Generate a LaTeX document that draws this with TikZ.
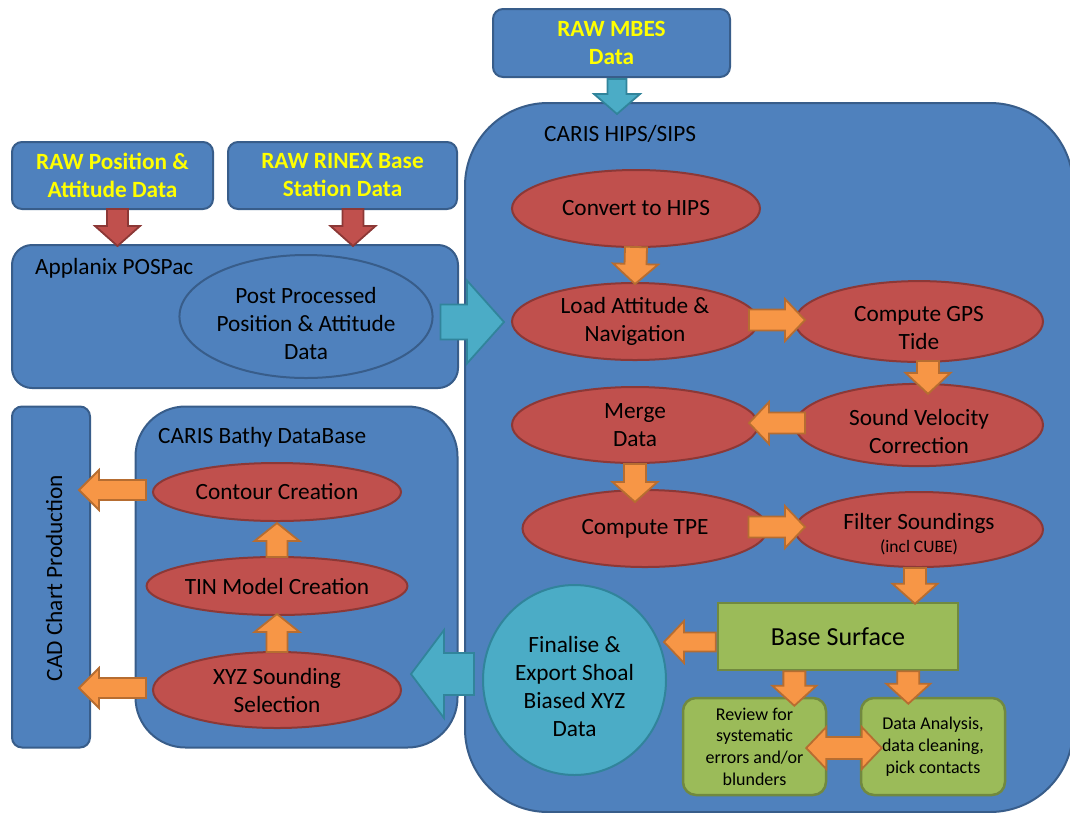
\documentclass[tikz,border=0pt]{standalone}
\usepackage{fontspec}
\setmainfont{Carlito}
\usetikzlibrary{calc,shapes.geometric}
\definecolor{blueF}{HTML}{4F81BD}
\definecolor{blueD}{HTML}{385D8A}
\definecolor{redF}{HTML}{C0504D}
\definecolor{redD}{HTML}{8C3836}
\definecolor{orangeF}{HTML}{F79646}
\definecolor{orangeD}{HTML}{B66D31}
\definecolor{tealF}{HTML}{4BACC6}
\definecolor{tealD}{HTML}{31849B}
\definecolor{greenF}{HTML}{9BBB59}
\definecolor{greenD}{HTML}{71893F}
\definecolor{rawyellow}{HTML}{FFFF00}
\newcommand\lowr[1]{\rule{0pt}{#1}}
% #1 style, #2 from, #3 to, #4 half shaft, #5 half head, #6 head length
\newcommand\blockarrow[6]{%
  \path[#1] let \p1=(#2), \p2=(#3),
    \n1={atan2(\y2-\y1,\x2-\x1)}, \n2={veclen(\x2-\x1,\y2-\y1)} in
    {[shift={(\p1)}, rotate=\n1]
     (0,-#4) -- ({\n2-#6},-#4) -- ({\n2-#6},-#5) -- (\n2,0)
     -- ({\n2-#6},#5) -- ({\n2-#6},#4) -- (0,#4) -- cycle};}
\newcommand\dblarrow[6]{%
  \path[#1] let \p1=(#2), \p2=(#3),
    \n1={atan2(\y2-\y1,\x2-\x1)}, \n2={veclen(\x2-\x1,\y2-\y1)} in
    {[shift={(\p1)}, rotate=\n1]
     (0,0) -- (#6,-#5) -- (#6,-#4) -- ({\n2-#6},-#4) -- ({\n2-#6},-#5) -- (\n2,0)
     -- ({\n2-#6},#5) -- ({\n2-#6},#4) -- (#6,#4) -- (#6,#5) -- cycle};}
\begin{document}
\begin{tikzpicture}[x=1pt,y=-1pt,
  bluebox/.style={draw=blueD, fill=blueF, line width=2pt, inner sep=0pt},
  rawbox/.style={bluebox, rounded corners=10pt, text=rawyellow, align=center,
    font=\fontsize{23.3}{28}\selectfont\bfseries},
  boxlabel/.style={anchor=west, inner sep=0pt, font=\fontsize{23.3}{28}\selectfont},
  redell/.style={ellipse, draw=redD, fill=redF, line width=2pt, inner sep=0pt,
    align=center, font=\fontsize{23.3}{28}\selectfont},
  blueell/.style={ellipse, draw=blueD, fill=blueF, line width=2pt, inner sep=0pt,
    align=center, font=\fontsize{23.3}{28}\selectfont},
  greenbox/.style={draw=greenD, fill=greenF, line width=2.5pt, inner sep=0pt, align=center},
  oarrow/.style={fill=orangeF, draw=orangeD, line width=1.8pt, line join=miter},
  rarrow/.style={fill=redF, draw=redD, line width=1.8pt, line join=miter},
  tarrow/.style={fill=tealF, draw=tealD, line width=1.8pt, line join=miter}]
\useasboundingbox (0,0) rectangle (1070,812);
\clip (0,0) rectangle (1070,812);

% containers
\node[bluebox, rounded corners=83pt, minimum width=608pt, minimum height=709pt] (hips) at (769,457.5) {};
\node[boxlabel] (hipslbl) at (544,134) {CARIS HIPS/SIPS};

\node[rawbox, minimum width=237pt, minimum height=68pt] (mbes) at (611.5,43) {RAW MBES\\Data};
\node[rawbox, minimum width=201pt, minimum height=67pt] (rawpos) at (112.5,175.5) {RAW Position \&\\Attitude Data};
\node[rawbox, minimum width=229pt, minimum height=67pt] (rinex) at (342.5,175.5) {RAW RINEX Base\\Station Data};

\node[bluebox, rounded corners=20pt, minimum width=446pt, minimum height=143pt] (pospac) at (235,316.5) {};
\node[boxlabel] (pospaclbl) at (35,268) {Applanix POSPac};
\node[blueell, minimum width=248pt, minimum height=123pt] (ppdata) at (306,316.5) {\lowr{30pt}Post Processed\\Position \& Attitude\\Data};

\node[bluebox, rounded corners=10pt, minimum width=78pt, minimum height=341pt] (cad) at (51,577) {};
\node[rotate=90, inner sep=0pt, font=\fontsize{23.3}{28}\selectfont] (cadlbl) at (54,578) {CAD Chart Production};

\node[bluebox, rounded corners=50pt, minimum width=322pt, minimum height=341pt] (bathy) at (296.5,577) {};
\node[boxlabel] (bathylbl) at (158,437) {CARIS Bathy DataBase};
\node[redell, minimum width=248pt, minimum height=58pt] (contour) at (277,492) {Contour Creation};
\node[redell, minimum width=248pt, minimum height=58pt] (tin) at (277,586) {TIN Model Creation};
\node[redell, minimum width=248pt, minimum height=76pt] (xyz) at (277,690) {XYZ Sounding\\Selection};

% HIPS process
\node[redell, minimum width=248pt, minimum height=77pt] (conv) at (636,208.5) {Convert to HIPS};
\node[redell, minimum width=246pt, minimum height=77pt] (load) at (635,321.5) {Load Attitude \&\\Navigation};
\node[redell, minimum width=248pt, minimum height=77pt] (gps) at (919,321.5) {\lowr{29pt}Compute GPS\\Tide};
\node[redell, minimum width=248pt, minimum height=76pt] (sv) at (919,425) {\lowr{30pt}Sound Velocity\\Correction};
\node[redell, minimum width=246pt, minimum height=76pt] (merge) at (635,425) {Merge\\Data};
\node[redell, minimum width=245pt, minimum height=77pt] (tpe) at (645,528.5) {Compute TPE};
\node[redell, minimum width=248pt, minimum height=75pt] (filter) at (919,529.5) {\lowr{25pt}Filter Soundings\\[-5pt]{\fontsize{17.5}{20}\selectfont (incl CUBE)}};

\node[greenbox, minimum width=240pt, minimum height=67pt, font=\fontsize{26}{30}\selectfont] (base) at (838,636.5) {Base Surface};
\node[ellipse, draw=tealD, fill=tealF, line width=2pt, inner sep=0pt, align=center,
  font=\fontsize{23.3}{28}\selectfont, minimum width=183pt, minimum height=190pt] (finalise) at (574.5,680) {\lowr{30pt}Finalise \&\\Export Shoal\\Biased XYZ\\Data};
\node[greenbox, rounded corners=13pt, minimum width=143pt, minimum height=97pt, font=\fontsize{18}{21.7}\selectfont] (review) at (754.5,746.5) {Review for\\systematic\\errors and/or\\blunders};
\node[greenbox, rounded corners=13pt, minimum width=144pt, minimum height=97pt, font=\fontsize{18}{21.7}\selectfont] (analysis) at (933,746.5) {Data Analysis,\\data cleaning,\\pick contacts};

\coordinate (bl) at ($(base.south west)!0.32!(base.south east)$);
\coordinate (br) at ($(base.south west)!0.79!(base.south east)$);

% arrows
\blockarrow{tarrow}{$(mbes.south)+(5.5,1)$}{$(mbes.south |- hips.north)+(5.5,12)$}{9.5}{23}{20}
\blockarrow{rarrow}{$(rawpos.south)+(5,-1)$}{$(rawpos.south |- pospac.north)+(5,2)$}{10.5}{22.5}{20}
\blockarrow{rarrow}{$(rinex.south)+(10.5,-1)$}{$(rinex.south |- pospac.north)+(10.5,2)$}{10.5}{22.5}{20}
\blockarrow{tarrow}{$(ppdata.east)+(7,5.5)$}{$(hips.west |- ppdata.east)+(40,5.5)$}{17.5}{41.5}{37}

\blockarrow{oarrow}{$(conv.south)+(0,-1)$}{$(load.north)+(0,2)$}{11}{22.5}{20}
\blockarrow{oarrow}{$(load.east)+(-10,-1.5)$}{$(load.east -| gps.west)+(11,-1.5)$}{10.5}{21}{20}
\blockarrow{oarrow}{$(gps.south)+(9,-2)$}{$(gps.south |- sv.north)+(9,11)$}{11}{22.5}{21}
\blockarrow{oarrow}{$(sv.west)+(11,-2)$}{$(sv.west -| merge.east)+(-10,-2)$}{10.5}{21}{20}
\blockarrow{oarrow}{$(merge.south)+(0,0)$}{$(merge.south |- tpe.north)+(0,13)$}{11}{22.5}{20}
\blockarrow{oarrow}{$(tpe.east)+(-20,-1.5)$}{$(tpe.east -| filter.west)+(11,-1.5)$}{10.5}{21}{20}
\blockarrow{oarrow}{$(filter.south)+(-4,0)$}{$(filter.south |- base.north)+(-4,2)$}{11}{22.5}{20}
\blockarrow{oarrow}{$(base.west)+(-1,5.5)$}{$(base.west -| finalise.east)+(-3,5.5)$}{9.5}{21}{20}
\blockarrow{oarrow}{bl}{$(bl |- review.north)+(0,9)$}{11}{22}{20}
\blockarrow{oarrow}{br}{$(br |- analysis.north)+(0,7)$}{11}{22}{20}
\dblarrow{oarrow}{$(review.east)+(-21,1.5)$}{$(review.east -| analysis.west)+(22,1.5)$}{11}{21}{20}
\blockarrow{tarrow}{$(finalise.west)+(-8,-6)$}{$(finalise.west -| bathy.east)+(-47.5,-6)$}{21}{44}{33}

\blockarrow{oarrow}{$(tin.north)+(0,1)$}{$(contour.south)+(0,1)$}{10.5}{22.5}{18}
\blockarrow{oarrow}{$(xyz.north)+(0,1)$}{$(tin.south)+(0,-2)$}{10.5}{22.5}{18}
\blockarrow{oarrow}{$(contour.west)+(-6,-2)$}{$(contour.west -| cad.east)+(-12,-2)$}{10}{20}{20}
\blockarrow{oarrow}{$(xyz.west)+(-6,-2)$}{$(xyz.west -| cad.east)+(-12,-2)$}{10}{20}{20}
\end{tikzpicture}
\end{document}
